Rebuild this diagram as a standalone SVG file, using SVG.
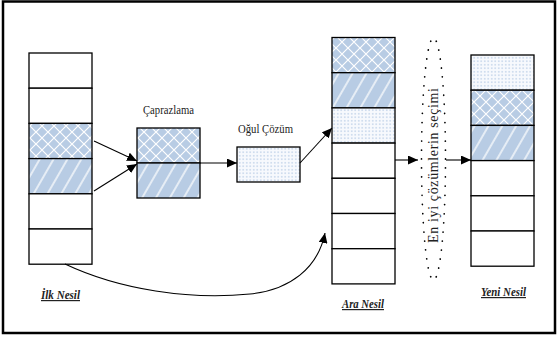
<svg xmlns="http://www.w3.org/2000/svg" width="558" height="341" viewBox="0 0 558 341">
<style>
.cell{stroke:#000;stroke-width:1.3}
.plain{fill:#fff}
.x{fill:url(#cross)}
.s{fill:url(#stripe)}
.d{fill:url(#dots)}
.lbl{font-family:"Liberation Serif","DejaVu Serif",serif;font-size:12px;fill:#222}
.ttl{font-family:"Liberation Serif","DejaVu Serif",serif;font-size:12px;font-weight:bold;font-style:italic;text-decoration:underline;fill:#222}
.con{fill:none;stroke:#000;stroke-width:1.1;marker-end:url(#ah)}
</style>
<defs>
<pattern id="cross" width="12" height="12" patternUnits="userSpaceOnUse">
<rect width="12" height="12" fill="#b8cce4"/>
<path d="M0,0 L12,12 M12,0 L0,12" stroke="#fff" stroke-width="1.2"/>
</pattern>
<pattern id="stripe" width="12" height="12" patternUnits="userSpaceOnUse" patternTransform="rotate(30)">
<rect width="12" height="12" fill="#b8cce4"/>
<line x1="6" y1="0" x2="6" y2="12" stroke="#fff" stroke-width="1.3"/>
</pattern>
<pattern id="dots" width="3.5" height="3.5" patternUnits="userSpaceOnUse">
<rect width="3.5" height="3.5" fill="#f7f9fd"/>
<circle cx="1.75" cy="1.75" r="0.9" fill="#c3d4ea"/>
</pattern>
<marker id="ah" markerUnits="userSpaceOnUse" markerWidth="10" markerHeight="9" refX="10" refY="4.5" orient="auto">
<path d="M0,0 L10,4.5 L0,9 z" fill="#000"/>
</marker>
</defs>
<rect x="3" y="1.5" width="552" height="331.5" fill="#fff" stroke="#000" stroke-width="2.5"/>

<g id="ilk-nesil">
<rect class="cell plain" x="29" y="53" width="63" height="35.2"/>
<rect class="cell plain" x="29" y="88.2" width="63" height="35.2"/>
<rect class="cell x" x="29" y="123.4" width="63" height="35.2"/>
<rect class="cell s" x="29" y="158.6" width="63" height="35.2"/>
<rect class="cell plain" x="29" y="193.8" width="63" height="35.2"/>
<rect class="cell plain" x="29" y="229" width="63" height="35.2"/>
<text class="ttl" x="41" y="299" textLength="39" lengthAdjust="spacingAndGlyphs">İlk Nesil</text>
</g>

<g id="caprazlama">
<rect class="cell x" x="137" y="128" width="63" height="35"/>
<rect class="cell s" x="137" y="163" width="63" height="35"/>
<text class="lbl" x="143" y="114" textLength="51" lengthAdjust="spacingAndGlyphs">Çaprazlama</text>
</g>

<g id="ogul-cozum">
<rect class="cell d" x="237" y="147" width="63" height="35"/>
<text class="lbl" x="238" y="133" textLength="55" lengthAdjust="spacingAndGlyphs">Oğul Çözüm</text>
</g>

<g id="ara-nesil">
<rect class="cell x" x="332" y="37.5" width="63" height="35.2"/>
<rect class="cell s" x="332" y="72.7" width="63" height="35.2"/>
<rect class="cell d" x="332" y="107.9" width="63" height="35.2"/>
<rect class="cell plain" x="332" y="143.1" width="63" height="35.2"/>
<rect class="cell plain" x="332" y="178.3" width="63" height="35.2"/>
<rect class="cell plain" x="332" y="213.5" width="63" height="35.2"/>
<rect class="cell plain" x="332" y="248.7" width="63" height="35.2"/>
<text class="ttl" x="342" y="308" textLength="42" lengthAdjust="spacingAndGlyphs">Ara Nesil</text>
</g>

<g id="secim">
<ellipse cx="433.5" cy="159" rx="12" ry="121" fill="none" stroke="#000" stroke-width="1.7" stroke-dasharray="0.1 9" stroke-linecap="round"/>
<text class="lbl" transform="translate(438,165.5) rotate(-90)" text-anchor="middle" style="font-size:14px" textLength="155" lengthAdjust="spacing">En iyi çözümlerin seçimi</text>
</g>

<g id="yeni-nesil">
<rect class="cell d" x="471" y="55" width="63" height="35.2"/>
<rect class="cell x" x="471" y="90.2" width="63" height="35.2"/>
<rect class="cell s" x="471" y="125.4" width="63" height="35.2"/>
<rect class="cell plain" x="471" y="160.6" width="63" height="35.2"/>
<rect class="cell plain" x="471" y="195.8" width="63" height="35.2"/>
<rect class="cell plain" x="471" y="231" width="63" height="35.2"/>
<text class="ttl" x="481" y="296" textLength="45" lengthAdjust="spacingAndGlyphs">Yeni Nesil</text>
</g>

<g id="connectors">
<path class="con" d="M94,141 L137,161"/>
<path class="con" d="M94,191 L137,164"/>
<path class="con" d="M200,163 L237,163"/>
<path class="con" d="M300,163 L332,128"/>
<path class="con" d="M395,160 L418,160"/>
<path class="con" d="M446,160 L471,160"/>
<path class="con" d="M65,264 C120,290 190,300 250,294 C290,290 318,268 325,233"/>
</g>
</svg>
